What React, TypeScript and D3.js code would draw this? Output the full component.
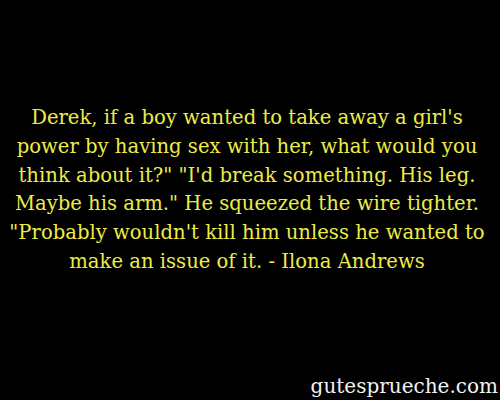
import React from "react";
import * as d3 from "d3";

// quote lines, top to bottom
const quoteLines = [
  "Derek, if a boy wanted to take away a girl's",
  "power by having sex with her, what would you",
  "think about it?\" \"I'd break something. His leg.",
  "Maybe his arm.\" He squeezed the wire tighter.",
  "\"Probably wouldn't kill him unless he wanted to",
  "make an issue of it. - Ilona Andrews",
];
const watermark = ["gutesprueche.com"];

export default function App() {
  const width = 500;
  const height = 400;

  // line index -> baseline y
  const yScale = d3
    .scaleLinear()
    .domain([0, quoteLines.length - 1])
    .range([124, 268]);

  return (
    <svg
      width={width}
      height={height}
      style={{ position: "absolute", left: 0, top: 0, background: "#000" }}
    >
      <rect width={width} height={height} fill="#000" />
      {quoteLines.map((line, i) => (
        <text
          key={i}
          x={247}
          y={yScale(i)}
          textAnchor="middle"
          fill="#ecec48"
          fontFamily="'DejaVu Serif', serif"
          fontSize={19.6}
        >
          {line}
        </text>
      ))}
      {watermark.map((w, i) => (
        <text
          key={i}
          x={498}
          y={393}
          textAnchor="end"
          fill="#f2f2f2"
          fontFamily="'DejaVu Serif', serif"
          fontSize={20}
        >
          {w}
        </text>
      ))}
    </svg>
  );
}
